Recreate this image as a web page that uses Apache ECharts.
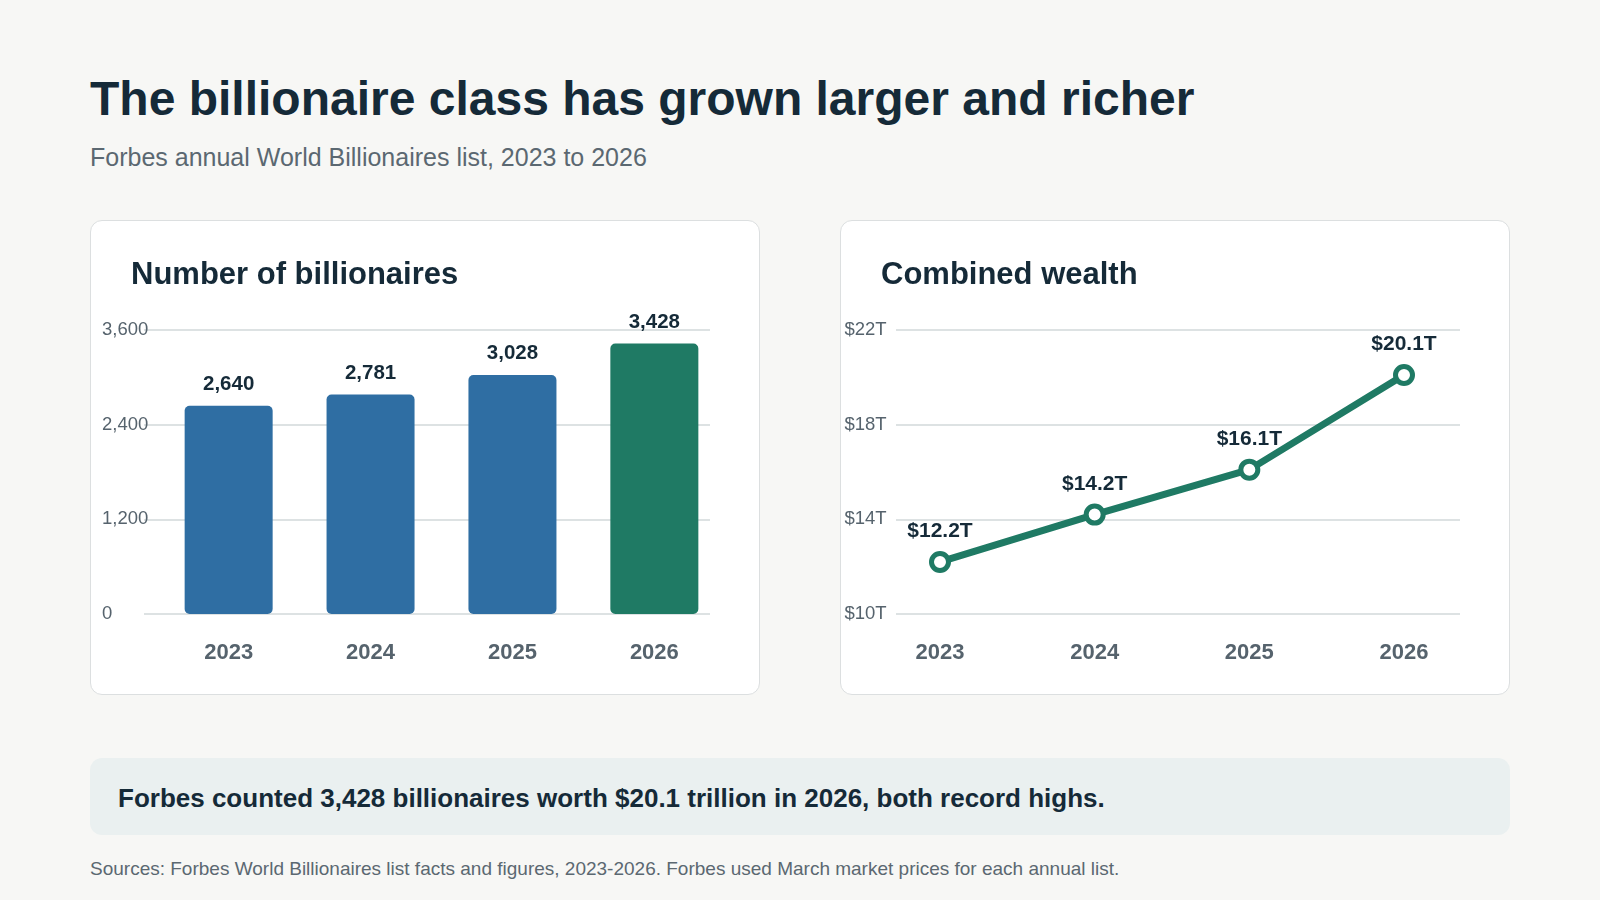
<!DOCTYPE html>
<html>
<head>
<meta charset="utf-8">
<script src="https://cdn.jsdelivr.net/npm/echarts@6/dist/echarts.min.js"></script>
<style>
  html, body { margin: 0; padding: 0; }
  body {
    width: 1600px; height: 900px; position: relative; overflow: hidden;
    background: #f7f7f5;
    font-family: "Liberation Sans", Arial, Helvetica, sans-serif;
  }
  .abs { position: absolute; white-space: nowrap; }
  .title { left: 90px; top: 75px; font-size: 48px; line-height: 48px; font-weight: bold; color: #152a38; }
  .subtitle { left: 90px; top: 145px; font-size: 25px; line-height: 25px; color: #5b6871; }
  .card {
    position: absolute; top: 220px; width: 670px; height: 475px; box-sizing: border-box;
    background: #fff; border: 1.5px solid #dcdfe0; border-radius: 12px;
  }
  .card-title { font-size: 31px; line-height: 31px; font-weight: bold; color: #152a38; top: 258px; }
  .chart { position: absolute; top: 220px; width: 670px; height: 475px; }
  .callout {
    position: absolute; left: 90px; top: 758px; width: 1420px; height: 77px;
    background: #eaf0f0; border-radius: 12px;
  }
  .callout-text { left: 118px; top: 785px; font-size: 26px; line-height: 26px; font-weight: bold; color: #152a38; }
  .source { left: 90px; top: 859px; font-size: 19px; line-height: 19px; color: #5b6871; }
</style>
</head>
<body>
  <div class="abs title">The billionaire class has grown larger and richer</div>
  <div class="abs subtitle">Forbes annual World Billionaires list, 2023 to 2026</div>

  <div class="card" style="left:90px"></div>
  <div class="card" style="left:840px"></div>
  <div id="countChart" class="chart" style="left:90px"></div>
  <div id="wealthChart" class="chart" style="left:840px"></div>
  <div class="abs card-title" style="left:131px">Number of billionaires</div>
  <div class="abs card-title" style="left:881px">Combined wealth</div>

  <div class="callout"></div>
  <div class="abs callout-text">Forbes counted 3,428 billionaires worth $20.1 trillion in 2026, both record highs.</div>
  <div class="abs source">Sources: Forbes World Billionaires list facts and figures, 2023-2026. Forbes used March market prices for each annual list.</div>

<script>
  // data
  const years = ['2023', '2024', '2025', '2026']
  const billionaires = [2640, 2781, 3028, 3428]
  const wealthT = [12.2, 14.2, 16.1, 20.1]
  const countTicks = { min: 0, max: 3600, interval: 1200 }
  const wealthTicks = { min: 10, max: 22, interval: 4 }

  const dark = '#152a38'
  const gray = '#56636d'
  const gridColor = '#dde2e3'
  const blue = '#2f6ea3'
  const green = '#1f7a64'

  const xLabel = { margin: 28, fontSize: 22, fontWeight: 'bold', color: gray }

  /* left: bar chart */
  const countChart = echarts.init(document.getElementById('countChart'))
  countChart.setOption({
    animation: false,
    grid: [
      { left: 54, right: 50, top: 110, height: 284 },      // gridlines + y labels
      { left: 67.7, right: 34.7, top: 110, height: 284 }   // bars
    ],
    xAxis: [
      { gridIndex: 0, type: 'category', data: years, show: false },
      {
        gridIndex: 1, type: 'category', data: years,
        axisLine: { show: false }, axisTick: { show: false },
        axisLabel: xLabel
      }
    ],
    yAxis: [
      {
        gridIndex: 0, type: 'value',
        min: countTicks.min, max: countTicks.max, interval: countTicks.interval,
        axisLine: { show: false }, axisTick: { show: false },
        axisLabel: {
          align: 'left', margin: 42, fontSize: 18.5, color: gray,
          formatter: v => v.toLocaleString('en-US')
        },
        splitLine: { lineStyle: { color: gridColor, width: 2 } }
      },
      {
        gridIndex: 1, type: 'value',
        min: countTicks.min, max: countTicks.max, show: false,
        splitLine: { show: false }
      }
    ],
    series: [
      {
        type: 'bar', xAxisIndex: 1, yAxisIndex: 1,
        barWidth: 88,
        data: billionaires.map((v, i) => ({
          value: v,
          itemStyle: { color: i === billionaires.length - 1 ? green : blue }
        })),
        itemStyle: { borderRadius: 5 },
        label: {
          show: true, position: 'top', distance: 11,
          fontSize: 20.5, fontWeight: 'bold', color: dark,
          formatter: p => p.value.toLocaleString('en-US')
        }
      }
    ]
  })

  /* right: line chart */
  const wealthChart = echarts.init(document.getElementById('wealthChart'))
  wealthChart.setOption({
    animation: false,
    grid: [
      { left: 56, right: 50, top: 110, height: 284 },
      { left: 100, right: 106, top: 110, height: 284 }
    ],
    xAxis: [
      { gridIndex: 0, type: 'category', data: years, show: false },
      {
        gridIndex: 1, type: 'category', data: years, boundaryGap: false,
        axisLine: { show: false }, axisTick: { show: false },
        axisLabel: xLabel
      }
    ],
    yAxis: [
      {
        gridIndex: 0, type: 'value',
        min: wealthTicks.min, max: wealthTicks.max, interval: wealthTicks.interval,
        axisLine: { show: false }, axisTick: { show: false },
        axisLabel: {
          align: 'left', margin: 51.5, fontSize: 18.5, color: gray,
          formatter: v => '$' + v + 'T'
        },
        splitLine: { lineStyle: { color: gridColor, width: 2 } }
      },
      {
        gridIndex: 1, type: 'value',
        min: wealthTicks.min, max: wealthTicks.max, show: false,
        splitLine: { show: false }
      }
    ],
    series: [
      {
        type: 'line', xAxisIndex: 1, yAxisIndex: 1,
        data: wealthT,
        lineStyle: { color: green, width: 7 },
        symbol: 'circle', symbolSize: 17,
        itemStyle: { color: '#fff', borderColor: green, borderWidth: 5 },
        label: {
          show: true, position: 'top', distance: 9,
          fontSize: 21, fontWeight: 'bold', color: dark,
          formatter: p => '$' + p.value.toFixed(1) + 'T'
        }
      }
    ]
  })
</script>
</body>
</html>
